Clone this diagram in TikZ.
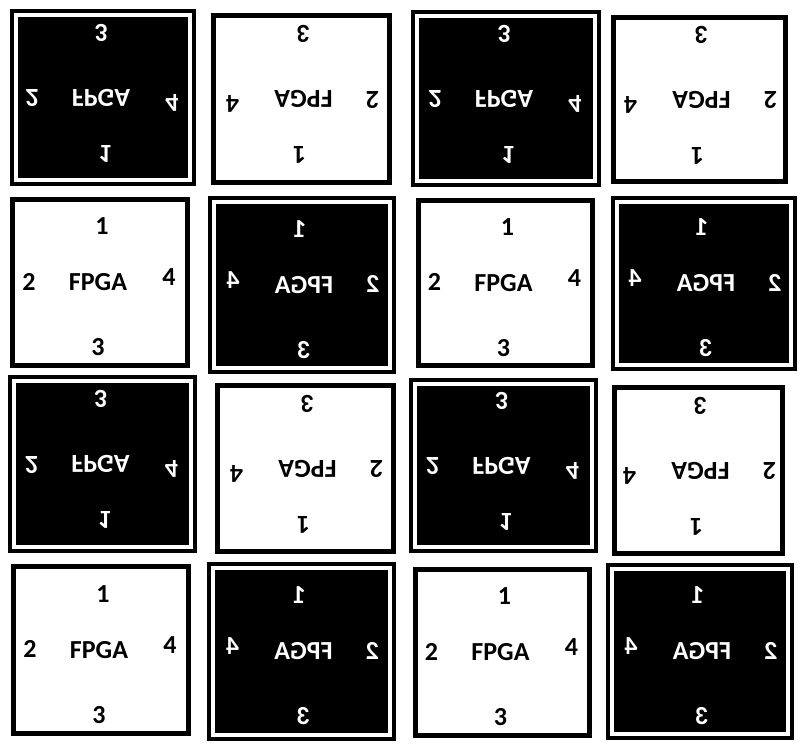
\documentclass[tikz,border=0pt]{standalone}
\usepackage{fontspec}
\setmainfont{Carlito}
\usepackage{tikz}
\usetikzlibrary{positioning}
\tikzset{
  pinlabel/.style={font=\fontsize{26}{26}\selectfont\bfseries, inner sep=0pt, transform shape},
}

\begin{document}
\begin{tikzpicture}[x=1pt, y=-1pt]
\useasboundingbox (0,0) rectangle (802,749);
\fill[white] (0,0) rectangle (802,749);
% Tiles: id / centre x / centre y / width / height / mirror x / mirror y / dark
\foreach \n/\cx/\cy/\w/\h/\sx/\sy/\dk in {
    1/103/97.5/186/177/1/-1/1, 2/301.5/99/181/172/-1/-1/0,
    3/506/98.5/190/177/1/-1/1, 4/699.5/99.5/177/169/-1/-1/0,
    5/100/282.5/180/171/1/1/0, 6/302/285/188/178/-1/1/1,
    7/505.5/283/179/170/1/1/0, 8/704/283.5/186/175/-1/1/1,
    9/102.5/464/189/178/1/-1/1, 10/305.5/468.5/181/171/-1/-1/0,
    11/503.5/465.5/189/175/1/-1/1, 12/698.5/470.5/173/171/-1/-1/0,
    13/101/650/180/172/1/1/0, 14/301.5/651.5/189/179/-1/1/1,
    15/502.5/652.5/179/171/1/1/0, 16/700/651.5/188/177/-1/1/1} {
    \begin{scope}[shift={(\cx,\cy)}, xscale=\sx, yscale=\sy]
        \ifnum\dk=1
            \fill[black] ({-\w/2},{-\h/2}) rectangle ({\w/2},{\h/2});
            \draw[white, line width=4pt] ({-\w/2+6},{-\h/2+6}) rectangle ({\w/2-6},{\h/2-6});
            \def\ink{white}
        \else
            \fill[white] ({-\w/2},{-\h/2}) rectangle ({\w/2},{\h/2});
            \draw[black, line width=5pt] ({-\w/2+2.5},{-\h/2+2.5}) rectangle ({\w/2-2.5},{\h/2-2.5});
            \def\ink{black}
        \fi
        % Chip name and pin numbers
        \node[pinlabel, text=\ink] (t\n-chip) at (-2,0) {FPGA};
        \node[pinlabel, text=\ink] (t\n-p1) at (2,-56) {1};
        \node[pinlabel, text=\ink] (t\n-p2) at (-71,-1) {2};
        \node[pinlabel, text=\ink] (t\n-p3) at (-2,65) {3};
        \node[pinlabel, text=\ink] (t\n-p4) at (69,-5) {4};
    \end{scope}
}
\end{tikzpicture}
\end{document}
